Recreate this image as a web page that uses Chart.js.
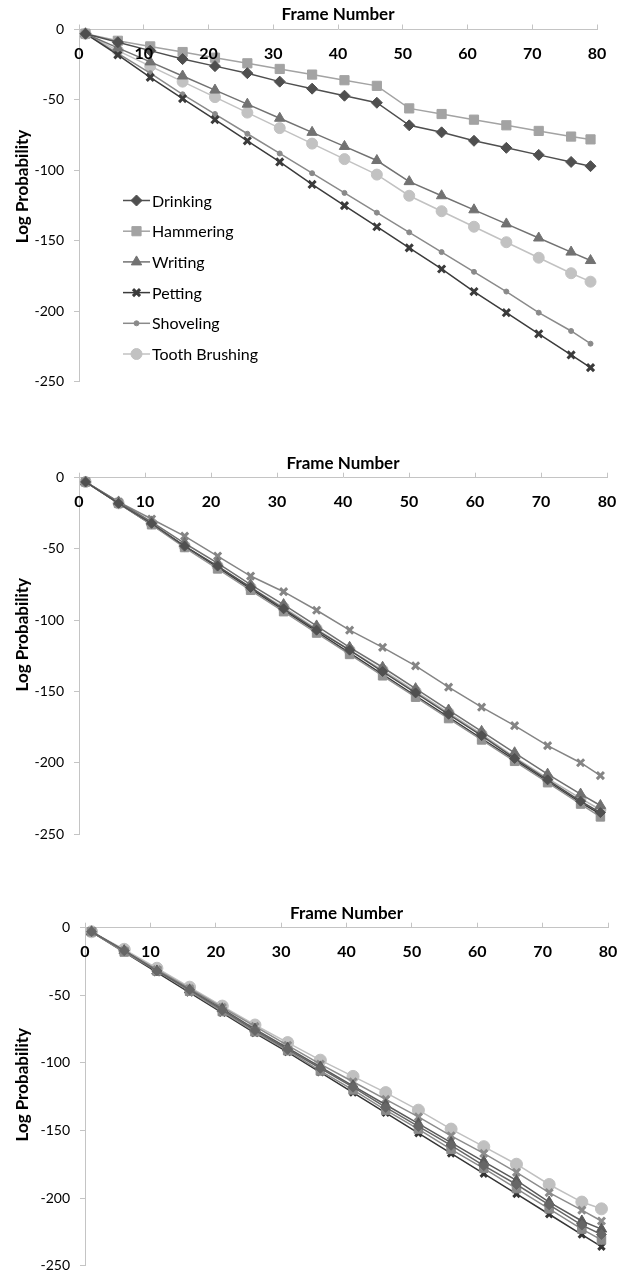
<!DOCTYPE html>
<html>
<head>
<meta charset="utf-8">
<script src="https://cdn.jsdelivr.net/npm/chart.js@4"></script>
<style>
  html, body { margin: 0; padding: 0; background: #fff; }
  .box { position: absolute; left: 0; width: 626px; }
  #b1 { top: 0; height: 420px; }
  #b2 { top: 440px; height: 420px; }
  #b3 { top: 890px; height: 394px; }
</style>
</head>
<body>
<div class="box" id="b1"><canvas id="c1"></canvas></div>
<div class="box" id="b2"><canvas id="c2"></canvas></div>
<div class="box" id="b3"><canvas id="c3"></canvas></div>
<script>
const frames = [1, 6, 11, 16, 21, 26, 31, 36, 41, 46, 51, 56, 61, 66, 71, 76, 79];
const seriesNames = ["Drinking", "Hammering", "Writing", "Petting", "Shoveling", "Tooth Brushing"];
const xTickLabels = [0, 10, 20, 30, 40, 50, 60, 70, 80];
const yTickLabels = [0, -50, -100, -150, -200, -250];

/* top chart */
const drinking1  = [-3, -9, -15, -21, -26, -31, -37, -42, -47, -52, -68, -73, -79, -84, -89, -94, -97];
const hammering1 = [-3, -8, -12, -16, -20, -24, -28, -32, -36, -40, -56, -60, -64, -68, -72, -76, -78];
const writing1   = [-3, -13, -23, -33, -43, -53, -63, -73, -83, -93, -108, -118, -128, -138, -148, -158, -164];
const petting1   = [-3, -18, -34, -49, -64, -79, -94, -110, -125, -140, -155, -170, -186, -201, -216, -231, -240];
const shoveling1 = [-3, -17, -31, -46, -60, -74, -88, -102, -116, -130, -144, -158, -172, -186, -201, -214, -223];
const tooth1     = [-3, -15, -26, -37, -48, -59, -70, -81, -92, -103, -118, -129, -140, -151, -162, -173, -179];

/* middle chart */
const drinking2  = [-3, -18, -32, -48, -62, -77, -92, -107, -121, -136, -151, -166, -181, -197, -212, -227, -235];
const hammering2 = [-3, -18, -33, -49, -64, -79, -94, -109, -124, -139, -154, -169, -184, -199, -214, -229, -238];
const writing2   = [-3, -17, -31, -46, -60, -75, -89, -104, -119, -133, -148, -163, -178, -193, -208, -222, -230];
const petting2   = [-3, -18, -33, -48, -63, -78, -93, -108, -123, -138, -153, -168, -183, -198, -213, -228, -236];
const shoveling2 = [-3, -17, -29, -41, -55, -69, -80, -93, -107, -119, -132, -147, -161, -174, -188, -200, -209];
const tooth2     = [-3, -18, -32, -48, -62, -77, -91, -106, -121, -135, -150, -165, -180, -196, -211, -225, -233];

/* bottom chart */
const drinking3  = [-3, -17, -32, -46, -61, -76, -90, -104, -118, -133, -147, -161, -176, -190, -205, -220, -227];
const hammering3 = [-3, -18, -32, -47, -62, -77, -91, -106, -120, -135, -149, -164, -178, -193, -208, -223, -231];
const writing3   = [-3, -17, -32, -46, -60, -75, -89, -103, -117, -131, -145, -159, -173, -187, -203, -217, -223];
const petting3   = [-3, -18, -33, -48, -63, -78, -92, -107, -122, -137, -152, -167, -182, -197, -212, -227, -236];
const shoveling3 = [-3, -17, -31, -45, -59, -73, -87, -101, -114, -127, -140, -154, -167, -181, -196, -209, -217];
const tooth3     = [-3, -16, -30, -44, -58, -72, -85, -98, -110, -122, -135, -149, -162, -175, -190, -203, -208];

const FONT = "Lato, 'Open Sans', sans-serif";
const AXIS = "#c4c4c4";

// marker looks, one per series (same order as seriesNames)
const looks1 = [
  { color: "#4f4f4f", style: "rectRot", r: 5.5, bw: 1 },
  { color: "#a3a3a3", style: "rect", r: 6.5, bw: 1 },
  { color: "#727272", style: "triangle", r: 6, bw: 1 },
  { color: "#3b3b3b", style: "crossRot", r: 5, bw: 3 },
  { color: "#8a8a8a", style: "circle", r: 2.5, bw: 1 },
  { color: "#c2c2c2", style: "circle", r: 5.5, bw: 1 }
];
const looks2 = [
  { color: "#505050", style: "rectRot", r: 5, bw: 1 },
  { color: "#939393", style: "rect", r: 6, bw: 1 },
  { color: "#707070", style: "triangle", r: 6, bw: 1 },
  { color: "#3a3a3a", style: "crossRot", r: 4.5, bw: 3 },
  { color: "#858585", style: "crossRot", r: 5, bw: 3 },
  { color: "#b5b5b5", style: "circle", r: 5.5, bw: 1 }
];
const looks3 = [
  { color: "#666666", style: "rectRot", r: 5, bw: 1 },
  { color: "#8a8a8a", style: "rect", r: 6, bw: 1 },
  { color: "#5a5a5a", style: "triangle", r: 6, bw: 1 },
  { color: "#353535", style: "crossRot", r: 4.5, bw: 3 },
  { color: "#8c8c8c", style: "crossRot", r: 5, bw: 3 },
  { color: "#c0c0c0", style: "circle", r: 6, bw: 1 }
];

function makeSets(list, looks) {
  return list.map((vals, i) => ({
    label: seriesNames[i],
    data: frames.map((f, j) => ({ x: f, y: vals[j] })),
    borderColor: looks[i].color,
    backgroundColor: looks[i].color,
    pointBackgroundColor: looks[i].color,
    pointBorderColor: looks[i].color,
    pointStyle: looks[i].style,
    pointRadius: looks[i].r,
    pointBorderWidth: looks[i].bw,
    borderWidth: 1.5,
    clip: false
  }));
}

// x labels sit under the top axis line, y title is drawn by hand
const textPlugin = {
  id: "axisText",
  afterDraw(chart) {
    const ctx = chart.ctx, area = chart.chartArea, xs = chart.scales.x;
    ctx.save();
    ctx.fillStyle = "#000";
    ctx.font = "bold 16px " + FONT;
    ctx.textAlign = "center";
    ctx.textBaseline = "middle";
    xTickLabels.forEach(v => ctx.fillText(String(v), xs.getPixelForValue(v), area.top + 24));
    ctx.translate(23, area.top + 157);
    ctx.rotate(-Math.PI / 2);
    ctx.font = "bold 17px " + FONT;
    ctx.fillText("Log Probability", 0, 0);
    ctx.restore();
  }
};

const legendPlugin = {
  id: "innerLegend",
  afterDraw(chart) {
    const ctx = chart.ctx, area = chart.chartArea;
    ctx.save();
    chart.data.datasets.forEach((ds, i) => {
      const y = area.top + 171 + i * 30.7;
      const x0 = area.left + 44;
      ctx.strokeStyle = ds.borderColor;
      ctx.fillStyle = ds.borderColor;
      ctx.lineWidth = 1.5;
      ctx.beginPath();
      ctx.moveTo(x0, y);
      ctx.lineTo(x0 + 27, y);
      ctx.stroke();
      ctx.lineWidth = ds.pointBorderWidth;
      Chart.helpers.drawPoint(ctx, { pointStyle: ds.pointStyle, radius: ds.pointRadius, borderWidth: ds.pointBorderWidth, rotation: 0 }, x0 + 13.5, y);
      ctx.fillStyle = "#000";
      ctx.font = "16px " + FONT;
      ctx.textAlign = "left";
      ctx.textBaseline = "middle";
      ctx.fillText(ds.label, x0 + 29, y + 1);
    });
    ctx.restore();
  }
};

function build(id, sets, lay, plugins) {
  new Chart(document.getElementById(id), {
    type: "line",
    data: { datasets: sets },
    options: {
      responsive: true,
      maintainAspectRatio: false,
      animation: false,
      layout: { padding: { top: 0, left: 0, right: lay.right, bottom: lay.bottom } },
      plugins: { legend: { display: false }, tooltip: { enabled: false } },
      scales: {
        x: {
          type: "linear",
          position: "top",
          min: 0,
          max: 80,
          ticks: { display: false, stepSize: 10 },
          grid: { drawOnChartArea: false, tickLength: 5, color: AXIS },
          border: { color: AXIS },
          title: {
            display: true,
            text: "Frame Number",
            color: "#000",
            font: { family: FONT, size: 17, weight: "bold", lineHeight: 1.2 },
            padding: { top: lay.top - 14.5 - 10.2, bottom: 0 }
          },
          afterFit: s => { s.height = lay.top; }
        },
        y: {
          min: -250,
          max: 0,
          afterBuildTicks: s => { s.ticks = yTickLabels.map(v => ({ value: v })); },
          ticks: { color: "#000", padding: 10, font: { family: FONT, size: 14 } },
          grid: { drawOnChartArea: false, tickLength: 5, color: AXIS },
          border: { color: AXIS },
          afterFit: s => { s.width = lay.left; }
        }
      }
    },
    plugins: plugins
  });
}

build("c1", makeSets([drinking1, hammering1, writing1, petting1, shoveling1, tooth1], looks1),
  { top: 29.5, left: 79, right: 29, bottom: 38.3 }, [textPlugin, legendPlugin]);
build("c2", makeSets([drinking2, hammering2, writing2, petting2, shoveling2, tooth2], looks2),
  { top: 37.7, left: 79, right: 19, bottom: 26 }, [textPlugin]);
build("c3", makeSets([drinking3, hammering3, writing3, petting3, shoveling3, tooth3], looks3),
  { top: 37.7, left: 85, right: 18, bottom: 7 }, [textPlugin]);
</script>
</body>
</html>
